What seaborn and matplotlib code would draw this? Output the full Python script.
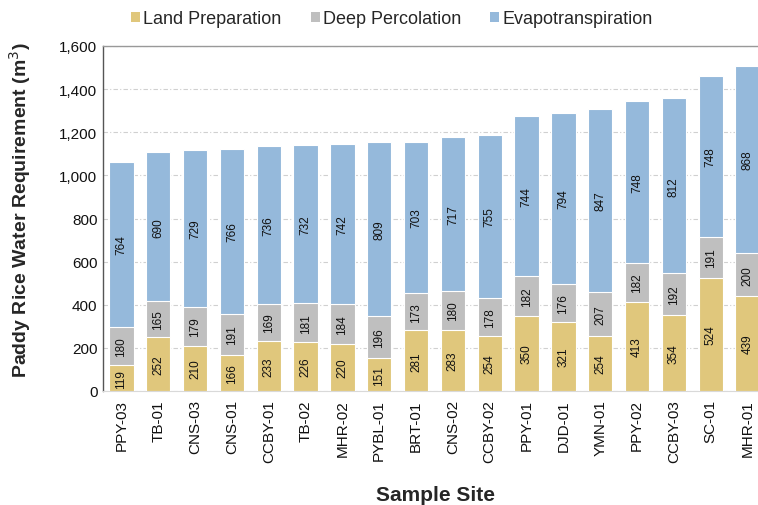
import numpy as np
import pandas as pd
import matplotlib
matplotlib.use("Agg")
import matplotlib.pyplot as plt
import seaborn as sns
from matplotlib.ticker import FuncFormatter
from matplotlib.patches import Patch

sites = ["PPY-03", "TB-01", "CNS-03", "CNS-01", "CCBY-01", "TB-02", "MHR-02", "PYBL-01",
         "BRT-01", "CNS-02", "CCBY-02", "PPY-01", "DJD-01", "YMN-01", "PPY-02", "CCBY-03",
         "SC-01", "MHR-01"]
land_prep = [119, 252, 210, 166, 233, 226, 220, 151, 281, 283, 254, 350, 321, 254, 413, 354, 524, 439]
deep_perc = [180, 165, 179, 191, 169, 181, 184, 196, 173, 180, 178, 182, 176, 207, 182, 192, 191, 200]
evapo = [764, 690, 729, 766, 736, 732, 742, 809, 703, 717, 755, 744, 794, 847, 748, 812, 748, 868]
series_names = ["Land Preparation", "Deep Percolation", "Evapotranspiration"]
colors = ["#E0C77C", "#BFBFBF", "#95B9DB"]

sns.set_style("white")
plt.rcParams['font.family'] = ['Liberation Sans', 'DejaVu Sans']

df = pd.DataFrame({"site": sites, "land": land_prep, "deep": deep_perc, "evap": evapo})
df["c1"] = df["land"]
df["c2"] = df["land"] + df["deep"]
df["c3"] = df["c2"] + df["evap"]

fig = plt.figure(figsize=(7.58, 5.06), dpi=100)
ax = fig.add_axes([103/758, 1-392/506, (766-103)/758, (392-47)/506])

for col, c in zip(["c3", "c2", "c1"], colors[::-1]):
    sns.barplot(data=df, x="site", y=col, color=c, width=0.66, ax=ax,
                edgecolor="white", linewidth=0.8, saturation=1, zorder=3)

# segment labels
for i in range(len(sites)):
    segs = [(0, land_prep[i]), (land_prep[i], deep_perc[i]), (land_prep[i] + deep_perc[i], evapo[i])]
    for b, h in segs:
        ax.text(i, b + h / 2, str(h), rotation=90, ha="center", va="center",
                fontsize=8.5, color="#111111", zorder=5)

ax.set_ylim(0, 1600)
ax.set_xlim(-0.5, 17.5)
ax.set_yticks(np.arange(0, 1601, 200))
ax.yaxis.set_major_formatter(FuncFormatter(lambda v, p: f"{int(v):,}"))
ax.tick_params(axis="y", labelsize=11, length=0, pad=4, labelcolor="#111111")
ax.tick_params(axis="x", labelsize=11, length=0, pad=6, labelcolor="#111111")
plt.setp(ax.get_xticklabels(), rotation=90)
ax.grid(axis="y", color="#D0D0D0", linestyle=(0, (4, 2, 1, 2)), linewidth=0.8, zorder=0)
ax.set_axisbelow(True)

ax.spines["left"].set_color("#555555")
ax.spines["left"].set_linewidth(1.0)
ax.spines["top"].set_color("#999999")
ax.spines["top"].set_linewidth(1.0)
ax.spines["bottom"].set_color("#D9D9D9")
ax.spines["right"].set_visible(False)

ax.set_ylabel("Paddy Rice Water Requirement (m$^3$)", fontsize=14, fontweight="bold")
ax.yaxis.set_label_coords((33-103)/663, (392-210)/345)
ax.set_xlabel("Sample Site", fontsize=15, fontweight="bold")
ax.xaxis.set_label_coords((435-103)/663, (392-486)/345)

handles = [Patch(facecolor=c, edgecolor="none", label=n) for c, n in zip(colors, series_names)]
fig.legend(handles=handles, loc="center", bbox_to_anchor=(392/758, 1-20/506), ncol=3,
           frameon=False, fontsize=13, handlelength=0.5, handleheight=0.5,
           handletextpad=0.2, columnspacing=1.6, borderpad=0, borderaxespad=0)

fig.savefig("out.png", dpi=100)
